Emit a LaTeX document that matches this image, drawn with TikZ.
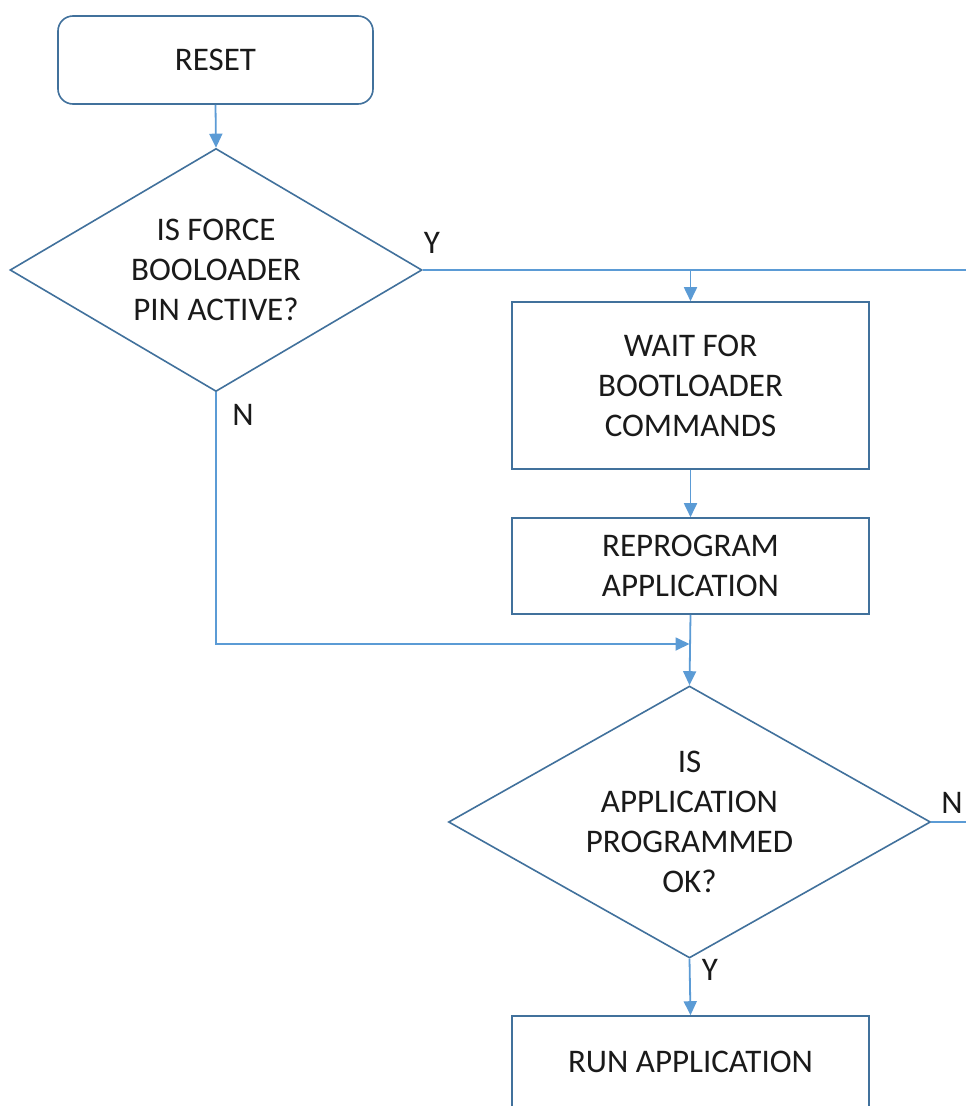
\documentclass[tikz,border=0pt]{standalone}
\usepackage{fontspec}
\setmainfont{Carlito}
\usetikzlibrary{shapes.geometric,arrows.meta}
\definecolor{shapeedge}{HTML}{41719C}
\definecolor{connline}{HTML}{5B9BD5}
\definecolor{txt}{HTML}{1A1A1A}
\tikzset{
  lbl/.style={font=\fontsize{33}{40}\selectfont, text=txt, align=center, inner sep=0pt},
  startbox/.style={draw=shapeedge, line width=1.6pt, rectangle, rounded corners=15pt, minimum width=315pt, minimum height=88pt, inner sep=0pt},
  procbox/.style={draw=shapeedge, line width=1.6pt, rectangle, minimum width=357pt, inner sep=0pt},
  decbox/.style={draw=shapeedge, line width=1.6pt, diamond, inner sep=0pt},
  conn/.style={draw=connline, line width=1.8pt},
  arr/.style={conn, -{Triangle[length=14pt,width=13pt]}},
}
\begin{document}
\begin{tikzpicture}[x=1pt,y=-1pt]
\useasboundingbox (0,0) rectangle (966,1106);
\clip (0,0) rectangle (966,1106);
\fill[white] (0,0) rectangle (966,1106);

% shapes
\node[startbox] (reset) at (215.5,60) {};
\node[lbl] (resett) at (reset) {RESET};

\node[decbox, minimum width=412pt, minimum height=243pt] (d1) at (216,270) {};
\node[lbl] (d1t) at (d1) {IS FORCE\\BOOLOADER\\PIN ACTIVE?};

\node[procbox, minimum height=167pt] (wait) at (690.5,385.5) {};
\node[lbl] (waitt) at (wait) {WAIT FOR\\BOOTLOADER\\COMMANDS};

\node[procbox, minimum height=96pt] (reprog) at (690.5,566) {};
\node[lbl] (reprogt) at (reprog) {REPROGRAM\\APPLICATION};

\node[decbox, minimum width=482pt, minimum height=272pt] (d2) at (689.5,822) {};
\node[lbl] (d2t) at (d2) {IS\\APPLICATION\\PROGRAMMED\\OK?};

\node[procbox, minimum height=92pt] (run) at (690.5,1062) {};
\node[lbl] (runt) at (run) {RUN APPLICATION};

% labels
\node[lbl] (ly1) at (432,243) {Y};
\node[lbl] (ln1) at (243,415) {N};
\node[lbl] (ln2) at (952,803) {N};
\node[lbl] (ly2) at (710,970) {Y};

% helper coordinates
\coordinate (yend) at (975,270);
\coordinate (ybr) at (wait.north |- d1.east);
\coordinate (join) at (d2.north |- 0,644);
\coordinate (nend) at (975,822);

% connectors
\draw[arr] (reset.south) -- (d1.north);
\draw[conn] (d1.east) -- (yend);
\draw[arr] (ybr) -- (wait.north);
\draw[arr] (wait.south) -- (reprog.north);
\draw[arr] (reprog.south) -- (d2.north);
\draw[arr] (d1.south) |- (join);
\draw[conn] (d2.east) -- (nend);
\draw[arr] (d2.south) -- (run.north);
\end{tikzpicture}
\end{document}
